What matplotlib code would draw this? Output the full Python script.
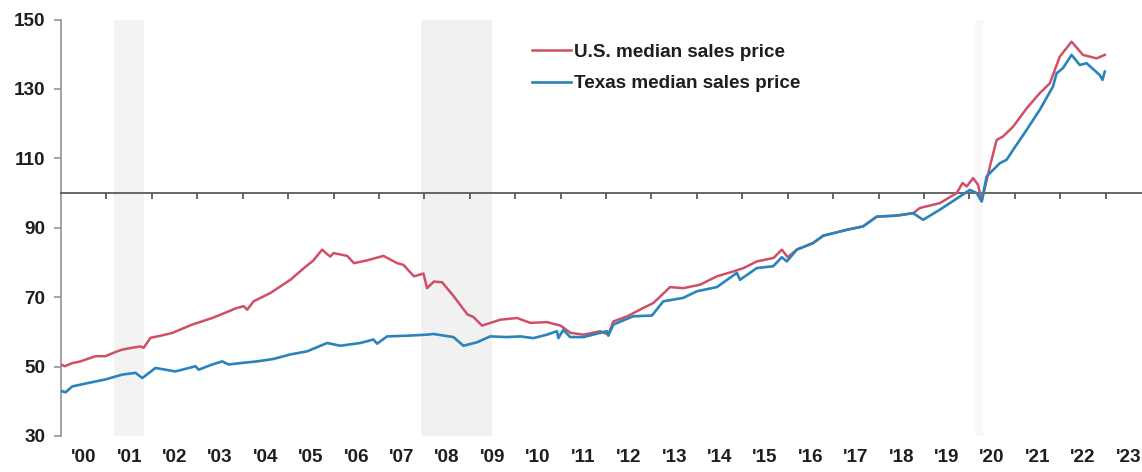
import matplotlib
matplotlib.use("Agg")
import matplotlib.pyplot as plt
from matplotlib.ticker import FixedLocator, NullFormatter

plt.rcParams['font.family'] = ['Liberation Sans', 'DejaVu Sans']

# ---------------- data (index) ----------------
us_years = [2000.00, 2000.08, 2000.25, 2000.43, 2000.76, 2000.98, 2001.20, 2001.35,
            2001.60, 2001.75, 2001.82, 2001.97, 2002.20, 2002.45, 2002.65, 2002.89,
            2003.10, 2003.33, 2003.69, 2003.85, 2004.02, 2004.10, 2004.24, 2004.61,
            2005.05, 2005.35, 2005.55, 2005.75, 2005.85, 2005.93, 2006.00, 2006.30,
            2006.45, 2006.74, 2007.10, 2007.40, 2007.54, 2007.77, 2007.98, 2008.06,
            2008.21, 2008.39, 2008.65, 2008.95, 2009.08, 2009.27, 2009.67, 2010.04,
            2010.33, 2010.70, 2011.00, 2011.22, 2011.51, 2011.87, 2012.05, 2012.16,
            2012.47, 2012.82, 2013.04, 2013.41, 2013.70, 2014.07, 2014.44, 2014.80,
            2015.03, 2015.32, 2015.69, 2015.87, 2016.00, 2016.20, 2016.56, 2016.78,
            2017.30, 2017.66, 2017.96, 2018.40, 2018.76, 2018.91, 2019.35, 2019.72,
            2019.85, 2019.94, 2020.08, 2020.19, 2020.27, 2020.45, 2020.60, 2020.74,
            2020.96, 2021.26, 2021.55, 2021.77, 2021.99, 2022.25, 2022.50, 2022.80,
            2022.98]
us_values = [50.6, 50.1, 51.0, 51.5, 53.0, 53.0, 54.2, 54.9,
             55.5, 55.8, 55.4, 58.3, 58.9, 59.7, 60.8, 62.1,
             63.0, 64.0, 65.9, 66.8, 67.4, 66.4, 68.8, 71.2,
             75.0, 78.4, 80.5, 83.7, 82.5, 81.7, 82.7, 81.9,
             79.8, 80.6, 81.9, 79.8, 79.3, 76.0, 76.8, 72.6,
             74.5, 74.3, 70.2, 65.0, 64.3, 61.8, 63.5, 64.0,
             62.6, 62.8, 61.8, 59.7, 59.2, 60.2, 59.2, 63.0,
             64.5, 66.9, 68.3, 72.9, 72.6, 73.6, 76.0, 77.4,
             78.4, 80.3, 81.3, 83.7, 81.5, 83.7, 85.6, 87.7,
             89.4, 90.4, 93.2, 93.5, 94.2, 95.7, 97.1, 100.0,
             102.9, 101.9, 104.3, 102.4, 97.6, 107.6, 115.3, 116.3,
             119.1, 124.4, 128.8, 131.6, 139.3, 143.6, 139.8, 138.8,
             139.8]

tx_years = [2000.00, 2000.10, 2000.25, 2000.61, 2000.98, 2001.35, 2001.64, 2001.79,
            2002.08, 2002.52, 2002.96, 2003.03, 2003.33, 2003.55, 2003.69, 2004.02,
            2004.32, 2004.68, 2005.05, 2005.42, 2005.86, 2006.15, 2006.59, 2006.88,
            2006.96, 2007.18, 2007.62, 2008.06, 2008.20, 2008.64, 2008.86, 2009.16,
            2009.45, 2009.82, 2010.11, 2010.40, 2010.70, 2010.92, 2010.95, 2011.06,
            2011.21, 2011.50, 2012.02, 2012.05, 2012.16, 2012.60, 2013.01, 2013.26,
            2013.70, 2014.00, 2014.44, 2014.88, 2014.95, 2015.32, 2015.68, 2015.87,
            2015.98, 2016.20, 2016.56, 2016.78, 2017.30, 2017.66, 2017.96, 2018.40,
            2018.76, 2018.98, 2019.35, 2019.79, 2020.01, 2020.16, 2020.27, 2020.38,
            2020.67, 2020.82, 2020.96, 2021.26, 2021.55, 2021.84, 2021.92, 2022.06,
            2022.25, 2022.43, 2022.58, 2022.87, 2022.93, 2022.98]
tx_values = [43.0, 42.6, 44.3, 45.3, 46.3, 47.7, 48.2, 46.7,
             49.6, 48.6, 50.1, 49.1, 50.6, 51.5, 50.6, 51.1,
             51.5, 52.2, 53.5, 54.4, 56.8, 56.0, 56.8, 57.8,
             56.6, 58.7, 58.9, 59.2, 59.4, 58.5, 56.0, 57.0,
             58.7, 58.5, 58.7, 58.2, 59.2, 60.2, 58.2, 60.6,
             58.5, 58.5, 60.2, 58.9, 62.1, 64.5, 64.7, 68.8,
             69.8, 71.7, 72.9, 77.0, 75.0, 78.4, 78.9, 81.5,
             80.3, 83.7, 85.6, 87.7, 89.4, 90.4, 93.2, 93.5,
             94.2, 92.3, 95.2, 99.0, 100.9, 100.0, 97.6, 104.8,
             108.6, 109.6, 112.4, 118.2, 124.0, 130.7, 134.5, 136.0,
             139.8, 136.9, 137.4, 134.0, 132.6, 135.0]

recessions = [(2001.17, 2001.83), (2007.92, 2009.50), (2020.12, 2020.30)]
recession_colors = ['#f3f3f3', '#f1f1f1', '#f8f8f8']
tick_years = list(range(2001, 2024))
year_labels = ["'00", "'01", "'02", "'03", "'04", "'05", "'06", "'07", "'08", "'09",
               "'10", "'11", "'12", "'13", "'14", "'15", "'16", "'17", "'18", "'19",
               "'20", "'21", "'22", "'23"]
y_ticks = [30, 50, 70, 90, 110, 130, 150]

# ---------------- figure ----------------
fig = plt.figure(figsize=(11.42, 4.72), dpi=100)
ax = fig.add_axes([61 / 1142, 36 / 472, 1081 / 1142, 416.5 / 472])

for (a, b), c in zip(recessions, recession_colors):
    ax.axvspan(a, b, color=c, lw=0, zorder=0)

ax.plot(us_years, us_values, color='#cf4f66', lw=1.8, label='U.S. median sales price', zorder=3)
ax.plot(tx_years, tx_values, color='#2a84ba', lw=1.9, label='Texas median sales price', zorder=4)

ax.set_xlim(2000, 2023.8)
ax.set_ylim(30, 150)

for s in ('top', 'right'):
    ax.spines[s].set_visible(False)
ax.spines['left'].set_color('#8a8a8a')
ax.spines['left'].set_linewidth(1.1)
ax.spines['bottom'].set_position(('data', 100))
ax.spines['bottom'].set_color('#5a5a5a')
ax.spines['bottom'].set_linewidth(1.3)

FS = 13.6
ax.set_yticks(y_ticks)
ax.tick_params(axis='y', direction='out', length=5, width=1.1, color='#8a8a8a',
               labelsize=FS, labelcolor='#1e1e1e', pad=6)
for t in ax.get_yticklabels():
    t.set_fontweight('bold')
ax.xaxis.set_major_locator(FixedLocator(tick_years))
ax.xaxis.set_major_formatter(NullFormatter())
ax.tick_params(axis='x', direction='out', length=4, width=1.3, color='#5a5a5a')

sec = ax.secondary_xaxis('bottom')
sec.spines['bottom'].set_visible(False)
sec.set_xticks([y + 0.5 for y in range(2000, 2024)])
sec.set_xticklabels(year_labels, fontweight='bold')
sec.tick_params(axis='x', length=0, labelsize=FS, labelcolor='#1e1e1e', pad=9)

leg = ax.legend(loc='upper left', bbox_to_anchor=(0.4357, 0.942), frameon=False,
                prop={'size': FS, 'weight': 'bold'}, handlelength=2.05, handletextpad=0.15,
                labelspacing=0.75, borderpad=0, borderaxespad=0)
for t in leg.get_texts():
    t.set_color('#1e1e1e')

fig.savefig('out.png', dpi=100)
